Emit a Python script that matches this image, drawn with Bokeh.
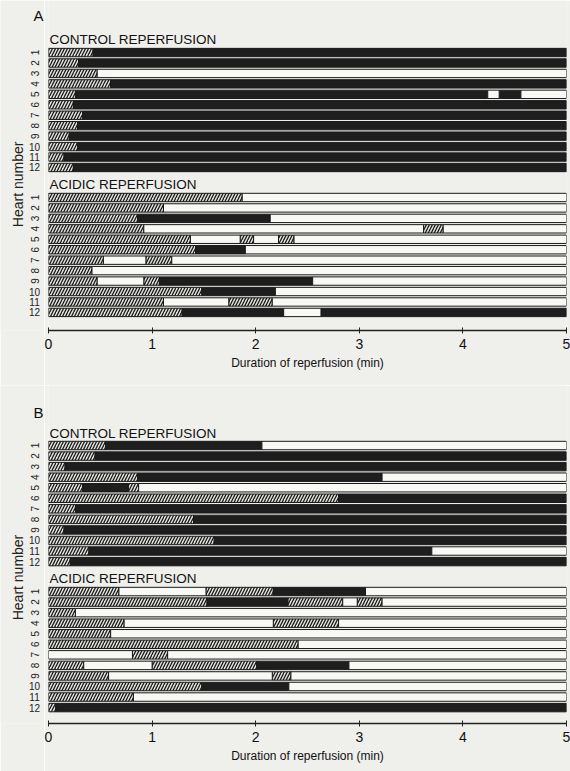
import math
from bokeh.plotting import figure
from bokeh.layouts import column, row
from bokeh.models import ColumnDataSource, Range1d, FixedTicker, Label
from bokeh.core.properties import value
from bokeh.embed import file_html
from bokeh.resources import INLINE

# Rhythm codes: "VT" = hatched, "VF" = black, "SR" = white.
# Each heart: list of (rhythm, end time in min); segments start where the previous ended.
x_ticks = [0, 1, 2, 3, 4, 5]
heart_labels = [str(i) for i in range(1, 13)]

A_control = [
    [("VT", 0.43), ("VF", 5)],
    [("VT", 0.29), ("VF", 5)],
    [("VT", 0.47), ("SR", 5)],
    [("VT", 0.60), ("VF", 5)],
    [("VT", 0.26), ("VF", 4.24), ("SR", 4.35), ("VF", 4.56), ("SR", 5)],
    [("VT", 0.24), ("VF", 5)],
    [("VT", 0.33), ("VF", 5)],
    [("VT", 0.28), ("VF", 5)],
    [("VT", 0.20), ("VF", 5)],
    [("VT", 0.28), ("VF", 5)],
    [("VT", 0.15), ("VF", 5)],
    [("VT", 0.24), ("VF", 5)],
]

A_acidic = [
    [("VT", 1.87), ("SR", 5)],
    [("VT", 1.11), ("SR", 5)],
    [("VT", 0.86), ("VF", 2.14), ("SR", 5)],
    [("VT", 0.92), ("SR", 3.62), ("VT", 3.81), ("SR", 5)],
    [("VT", 1.37), ("SR", 1.85), ("VT", 1.98), ("SR", 2.22), ("VT", 2.37), ("SR", 5)],
    [("VT", 1.42), ("VF", 1.90), ("SR", 5)],
    [("VT", 0.53), ("SR", 0.94), ("VT", 1.19), ("SR", 5)],
    [("VT", 0.42), ("SR", 5)],
    [("VT", 0.47), ("SR", 0.92), ("VT", 1.07), ("VF", 2.55), ("SR", 5)],
    [("VT", 1.48), ("VF", 2.19), ("SR", 5)],
    [("VT", 1.11), ("SR", 1.74), ("VT", 2.16), ("SR", 5)],
    [("VT", 1.29), ("VF", 2.27), ("SR", 2.63), ("VF", 5)],
]

B_control = [
    [("VT", 0.55), ("VF", 2.06), ("SR", 5)],
    [("VT", 0.45), ("VF", 5)],
    [("VT", 0.16), ("VF", 5)],
    [("VT", 0.86), ("VF", 3.22), ("SR", 5)],
    [("VT", 0.33), ("VF", 0.77), ("VT", 0.87), ("SR", 5)],
    [("VT", 2.80), ("VF", 5)],
    [("VT", 0.26), ("VF", 5)],
    [("VT", 1.40), ("VF", 5)],
    [("VT", 0.15), ("VF", 5)],
    [("VT", 1.60), ("VF", 5)],
    [("VT", 0.39), ("VF", 3.70), ("SR", 5)],
    [("VT", 0.21), ("VF", 5)],
]

B_acidic = [
    [("VT", 0.68), ("SR", 1.52), ("VT", 2.17), ("VF", 3.06), ("SR", 5)],
    [("VT", 1.53), ("VF", 2.31), ("VT", 2.84), ("SR", 2.98), ("VT", 3.22), ("SR", 5)],
    [("VT", 0.26), ("SR", 5)],
    [("VT", 0.73), ("SR", 2.17), ("VT", 2.80), ("SR", 5)],
    [("VT", 0.60), ("SR", 5)],
    [("VT", 2.41), ("SR", 5)],
    [("SR", 0.81), ("VT", 1.15), ("SR", 5)],
    [("VT", 0.34), ("SR", 1.00), ("VT", 2.01), ("VF", 2.90), ("SR", 5)],
    [("VT", 0.58), ("SR", 2.16), ("VT", 2.34), ("SR", 5)],
    [("VT", 1.48), ("VF", 2.32), ("SR", 5)],
    [("VT", 0.82), ("SR", 5)],
    [("VT", 0.07), ("VF", 5)],
]

BG = "#efefeb"
FONT = "Liberation Sans"
STYLE = {
    "VT": dict(fill_color="#e2e2de", hatch_pattern="/", hatch_color="#1a1a1a",
               hatch_scale=6, hatch_weight=1.3),
    "VF": dict(fill_color="#1e1e1e"),
    "SR": dict(fill_color="#f8f8f5"),
}
LEFT_W = 44      # width of the left text strip
MAIN_PAD = 4     # left border of the main figure (room for the "0" tick label)


def build(hearts, offset, store):
    for k, heart in enumerate(hearts, start=1):
        start = 0.0
        for rhythm, end in heart:
            d = store[rhythm]
            d["left"].append(start)
            d["right"].append(end)
            d["y"].append(offset + k)
            start = end


def style_fig(p):
    p.background_fill_color = BG
    p.border_fill_color = BG
    p.outline_line_color = None
    p.grid.visible = False


def make_panel(letter, control, acidic, height, frame_h, pitch,
               ctrl_off, acid_off, letter_y, ctrl_y, acid_y, heart_y):
    yr = Range1d(frame_h / pitch, 0)
    p = figure(width=570 - LEFT_W, height=height, x_range=Range1d(0, 5),
               y_range=yr, output_backend="svg", toolbar_location=None,
               y_axis_location=None,
               min_border_left=MAIN_PAD, min_border_right=4, min_border_top=0,
               min_border_bottom=height - frame_h)
    style_fig(p)

    store = {r: {"left": [], "right": [], "y": []} for r in STYLE}
    build(control, ctrl_off, store)
    build(acidic, acid_off, store)
    for r, st in STYLE.items():
        src = ColumnDataSource(store[r])
        p.hbar(y="y", left="left", right="right", height=0.8, source=src,
               line_color="#1a1a1a", line_width=1, **st)

    ax = p.xaxis[0]
    ax.ticker = FixedTicker(ticks=x_ticks)
    ax.minor_tick_line_color = None
    ax.major_tick_in = 3
    ax.major_tick_out = 3
    ax.axis_line_width = 1.6
    ax.axis_line_color = "#222"
    ax.major_tick_line_color = "#222"
    ax.major_label_standoff = 5
    ax.major_label_text_font = FONT
    ax.major_label_text_font_size = "14px"
    ax.major_label_text_color = "#111"
    ax.axis_label = "Duration of reperfusion (min)"
    ax.axis_label_text_font = FONT
    ax.axis_label_text_font_style = "normal"
    ax.axis_label_text_font_size = "12px"
    ax.axis_label_text_color = "#111"
    ax.axis_label_standoff = 4

    for ty, t in ((ctrl_y, "CONTROL REPERFUSION"), (acid_y, "ACIDIC REPERFUSION")):
        p.add_layout(Label(x=0.0, y=ty, text=t, text_font=FONT,
                           text_font_size="13.5px", text_color="#111",
                           text_baseline="middle", text_align="left",
                           x_offset=1))

    # left strip: heart numbers, "Heart number", panel letter (x in pixels)
    q = figure(width=LEFT_W, height=height, x_range=Range1d(0, LEFT_W),
               y_range=yr, output_backend="svg", toolbar_location=None,
               x_axis_location=None, y_axis_location=None,
               min_border_left=0, min_border_right=0, min_border_top=0,
               min_border_bottom=height - frame_h)
    style_fig(q)
    ys, texts, angles = [], [], []
    for off in (ctrl_off, acid_off):
        for k, t in enumerate(heart_labels, start=1):
            ys.append(off + k)
            texts.append(t)
            angles.append(math.pi / 2 if k < 10 else 0)
    q.text(x=34, y="y", text="text", angle="angle",
           source=ColumnDataSource(dict(y=ys, text=texts, angle=angles)),
           text_align="center", text_baseline="middle",
           text_font_size="10px", text_font=value(FONT), text_color="#222")
    q.text(x=[17], y=[heart_y], text=["Heart number"], angle=math.pi / 2,
           text_align="center", text_baseline="middle",
           text_font_size="14px", text_font=value(FONT), text_color="#222")
    q.text(x=[LEFT_W - 1], y=[letter_y], text=[letter],
           text_align="right", text_baseline="middle",
           text_font_size="15px", text_font=value(FONT), text_color="#111")
    return row(q, p, spacing=0)


pa = make_panel("A", A_control, A_acidic, height=385, frame_h=330, pitch=10.45,
                ctrl_off=3.98, acid_off=17.85, letter_y=1.44, ctrl_y=3.73,
                acid_y=17.6, heart_y=17.6)
pb = make_panel("B", B_control, B_acidic, height=386, frame_h=338, pitch=10.55,
                ctrl_off=4.69, acid_off=18.53, letter_y=2.56, ctrl_y=4.55,
                acid_y=18.29, heart_y=18.2)

layout = column(pa, pb, spacing=0)
open("out.html", "w").write(file_html(layout, INLINE))
